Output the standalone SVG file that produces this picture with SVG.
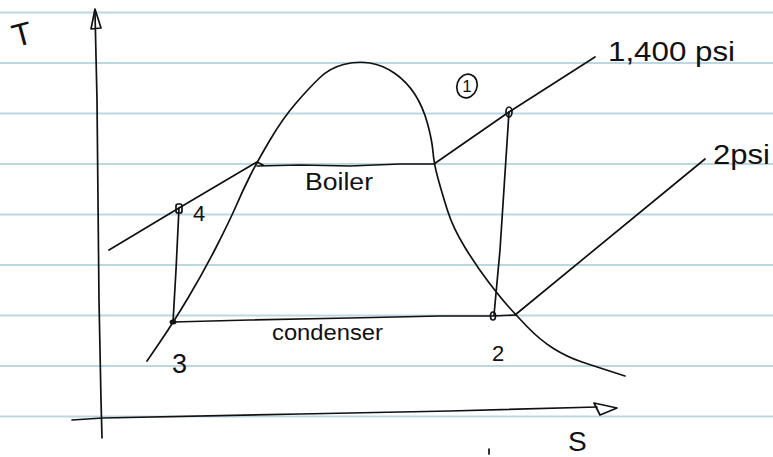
<svg xmlns="http://www.w3.org/2000/svg" width="773" height="457" viewBox="0 0 773 457">
<style>
.rule{stroke:#bdd7e2;stroke-width:2;fill:none}
.ink{stroke:#111;stroke-width:1.7;fill:none;stroke-linecap:round;stroke-linejoin:round}
.lbl{font-family:"Liberation Sans","DejaVu Sans",sans-serif;fill:#111}
</style>
<rect width="773" height="457" fill="#ffffff"/>
<g id="paper">
<line class="rule" x1="0" y1="12.5" x2="773" y2="12.5"/>
<line class="rule" x1="0" y1="63" x2="773" y2="63"/>
<line class="rule" x1="0" y1="113.5" x2="773" y2="113.5"/>
<line class="rule" x1="0" y1="164" x2="773" y2="164"/>
<line class="rule" x1="0" y1="214.5" x2="773" y2="214.5"/>
<line class="rule" x1="0" y1="265" x2="773" y2="265"/>
<line class="rule" x1="0" y1="315.5" x2="773" y2="315.5"/>
<line class="rule" x1="0" y1="366" x2="773" y2="366"/>
<line class="rule" x1="0" y1="416.5" x2="773" y2="416.5"/>
</g>
<g id="axes">
<path class="ink" d="M102,438 L101,400 L99,300 L98,200 L97,100 L95,12"/>
<path class="ink" d="M91,29 L95,9 L101,28 Z"/>
<path class="ink" d="M72,420 L103,418 L300,414 L450,411 L597,407"/>
<path class="ink" d="M594,403 L617,408 L600,415 Z"/>
<text class="lbl" font-size="32" transform="translate(25,45) rotate(-15)" text-anchor="middle">T</text>
<text class="lbl" font-size="28" x="568" y="451">S</text>
</g>
<g id="connectors">
<path id="dome" class="ink" d="M147,361 L160,342 Q173,323 188,298 Q203,273 216.5,246.5 Q230,220 236.5,205 Q243,190 250,176 Q257,162 270,140 Q283,118 296.5,102.5 Q310,87 320,77.5 Q330,68 343.5,64.5 Q357,61 370,63 Q383,65 395,73.5 Q407,82 415,94.5 Q423,107 427.5,123.5 Q432,140 433,152 Q434,164 438,178.5 Q442,193 447.5,210.5 Q453,228 465,247.5 Q477,267 488.5,282 Q500,297 507.5,305.5 Q515,314 527.5,327 Q540,340 553.5,348.5 Q567,357 582,362 Q597,367 625,376"/>
<path id="isobar-1400" class="ink" d="M109,250 L179,208 L257,162 L263,165 M257,166 L300,165 L350,166 L400,164 L434,164 L470,139 L509,112 L595,57"/>
<path id="isobar-2" class="ink" d="M515,315 L705,159"/>
<path id="pump" class="ink" d="M173,322 L176,270 L179,208"/>
<path id="turbine" class="ink" d="M509,112 L500,250 L494,315"/>
<path id="condenser-line" class="ink" d="M173,322 L250,320 L350,318 L440,316 L493,316 L515,315"/>
<line class="ink" x1="489" y1="449" x2="489" y2="454"/>
</g>
<g id="state-1">
<ellipse class="ink" cx="509" cy="112" rx="3" ry="5"/>
<ellipse class="ink" cx="467" cy="86" rx="10" ry="12" transform="rotate(20 467 86)"/>
<text class="lbl" font-size="17" x="467" y="92" text-anchor="middle">1</text>
</g>
<g id="state-2">
<ellipse class="ink" cx="493" cy="316" rx="2.5" ry="4"/>
<text class="lbl" font-size="22" x="492" y="361">2</text>
</g>
<g id="state-3">
<ellipse cx="173" cy="322" rx="3.5" ry="2.5" fill="#111"/>
<text class="lbl" font-size="27" x="172" y="373">3</text>
</g>
<g id="state-4">
<rect class="ink" x="176" y="204" width="6" height="9" rx="2"/>
<text class="lbl" font-size="22" x="193" y="221">4</text>
</g>
<g id="labels">
<text class="lbl" font-size="28" x="608" y="61" textLength="127" lengthAdjust="spacingAndGlyphs">1,400 psi</text>
<text class="lbl" font-size="28" x="713" y="164" textLength="57" lengthAdjust="spacingAndGlyphs">2psi</text>
<text class="lbl" font-size="23" x="305" y="190" textLength="68" lengthAdjust="spacingAndGlyphs">Boiler</text>
<text class="lbl" font-size="22" x="272" y="340" textLength="111" lengthAdjust="spacingAndGlyphs">condenser</text>
</g>
</svg>
